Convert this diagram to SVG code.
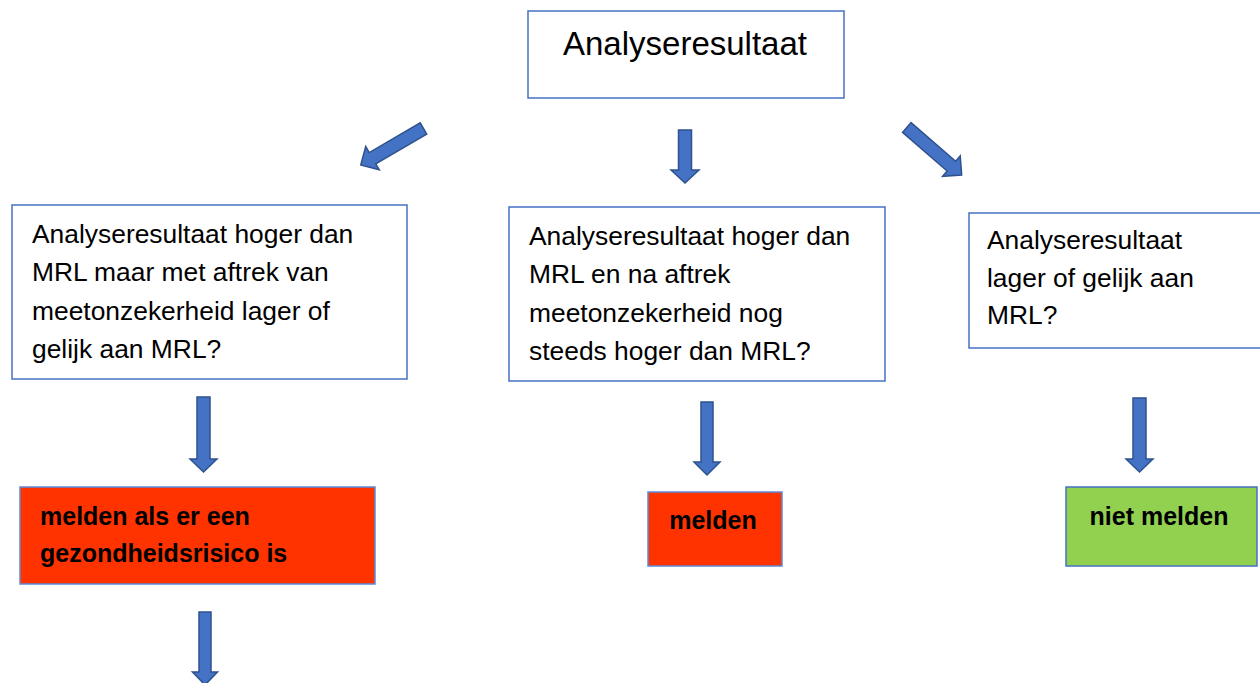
<svg xmlns="http://www.w3.org/2000/svg" width="1260" height="683" viewBox="0 0 1260 683">
<style>
.box{fill:#fff;stroke:#4472C4;stroke-width:1.5}
.red{fill:#FF3300;stroke:#5B8BD6;stroke-width:1.5}
.green{fill:#92D050;stroke:#4472C4;stroke-width:1.5}
.t{font-family:"Liberation Sans",Arial,sans-serif;font-size:26.4px;fill:#000}
.tt{font-family:"Liberation Sans",Arial,sans-serif;font-size:33px;fill:#000}
.b{font-family:"Liberation Sans",Arial,sans-serif;font-size:25px;font-weight:bold;fill:#000}
.arr{fill:#4472C4;stroke:#2F528F;stroke-width:1.5;stroke-linejoin:miter}
</style>
<g id="n-top">
<rect class="box" x="528" y="11" width="316" height="87"/>
<text class="tt" x="685" y="55" text-anchor="middle">Analyseresultaat</text>
</g>
<g id="n-left">
<rect class="box" x="12" y="205" width="395" height="174"/>
<text class="t" x="32" y="243">Analyseresultaat hoger dan</text>
<text class="t" x="32" y="281">MRL maar met aftrek van</text>
<text class="t" x="32" y="320">meetonzekerheid lager of</text>
<text class="t" x="32" y="358">gelijk aan MRL?</text>
</g>
<g id="n-mid">
<rect class="box" x="509" y="207" width="376" height="174"/>
<text class="t" x="529" y="245">Analyseresultaat hoger dan</text>
<text class="t" x="529" y="283">MRL en na aftrek</text>
<text class="t" x="529" y="322">meetonzekerheid nog</text>
<text class="t" x="529" y="360">steeds hoger dan MRL?</text>
</g>
<g id="n-right">
<rect class="box" x="969" y="213" width="300" height="135"/>
<text class="t" x="987" y="249">Analyseresultaat</text>
<text class="t" x="987" y="287">lager of gelijk aan</text>
<text class="t" x="987" y="324">MRL?</text>
</g>
<g id="n-melden-risico">
<rect class="red" x="20" y="487" width="355" height="97"/>
<text class="b" x="40" y="525">melden als er een</text>
<text class="b" x="40" y="562">gezondheidsrisico is</text>
</g>
<g id="n-melden">
<rect class="red" x="648" y="492" width="134" height="74"/>
<text class="b" x="713" y="529" text-anchor="middle">melden</text>
</g>
<g id="n-niet-melden">
<rect class="green" x="1066" y="487" width="191" height="79"/>
<text class="b" x="1159" y="525" text-anchor="middle">niet melden</text>
</g>
<g id="connectors">
<!-- diagonal left -->
<polygon class="arr" transform="translate(423.5,128.5) rotate(149.8)" points="0,-6.5 59,-6.5 59,-13.5 72.6,0 59,13.5 59,6.5 0,6.5"/>
<!-- diagonal right -->
<polygon class="arr" transform="translate(906.8,127.5) rotate(40.9)" points="0,-6.5 59,-6.5 59,-13.5 72.6,0 59,13.5 59,6.5 0,6.5"/>
<!-- top middle down -->
<polygon class="arr" points="678.5,130 691.5,130 691.5,170 699,170 685,183 671,170 678.5,170"/>
<!-- left box down -->
<polygon class="arr" points="197,397 210,397 210,459 217,459 203.5,472 190,459 197,459"/>
<!-- mid box down -->
<polygon class="arr" points="701,402 713,402 713,462 720,462 707,475 694,462 701,462"/>
<!-- right box down -->
<polygon class="arr" points="1133,398 1146,398 1146,459 1153,459 1139.5,472 1126,459 1133,459"/>
<!-- below red box -->
<polygon class="arr" points="199,612 211,612 211,672 217.5,672 205,685 192.5,672 199,672"/>
</g>
</svg>
